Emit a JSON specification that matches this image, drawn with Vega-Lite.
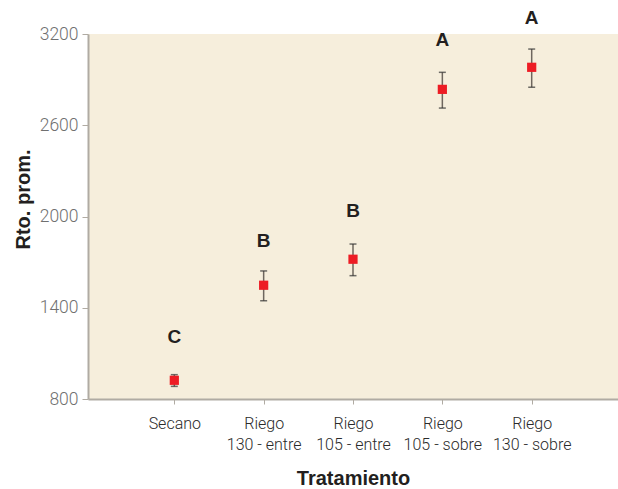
{
  "$schema": "https://vega.github.io/schema/vega-lite/v6.json",
  "width": 530,
  "height": 365,
  "autosize": "none",
  "padding": {"left": 88, "top": 34, "right": 0, "bottom": 90},
  "background": "white",
  "config": {
    "view": {"fill": "#F6EEDC", "stroke": null},
    "font": "Liberation Sans"
  },
  "data": {
    "values": [
      {"trat": "Secano", "mean": 923, "lo": 883, "hi": 960, "letra": "C", "ly": 1208},
      {"trat": "Riego|130 - entre", "mean": 1548, "lo": 1446, "hi": 1642, "letra": "B", "ly": 1839},
      {"trat": "Riego|105 - entre", "mean": 1719, "lo": 1611, "hi": 1819, "letra": "B", "ly": 2036},
      {"trat": "Riego|105 - sobre", "mean": 2836, "lo": 2713, "hi": 2948, "letra": "A", "ly": 3161},
      {"trat": "Riego|130 - sobre", "mean": 2981, "lo": 2850, "hi": 3101, "letra": "A", "ly": 3305}
    ]
  },
  "encoding": {
    "x": {
      "field": "trat",
      "type": "nominal",
      "sort": null,
      "scale": {"type": "point", "padding": 0.966},
      "axis": {
        "title": "Tratamiento",
        "titleFont": "Liberation Sans",
        "titleFontSize": 20,
        "titleFontWeight": "bold",
        "titleColor": "#231F20",
        "titlePadding": 16,
        "labelExpr": "split(datum.value, '|')",
        "labelAngle": 0,
        "labelFont": "Roboto",
        "labelFontSize": 16,
        "labelFontWeight": 300,
        "labelColor": "#2A2A2A",
        "labelPadding": 11,
        "labelLineHeight": 21,
        "domainColor": "#B0ABA3",
        "domainWidth": 2,
        "tickColor": "#B0ABA3",
        "tickSize": 5,
        "grid": false
      }
    }
  },
  "layer": [
    {
      "mark": {"type": "rule", "color": "#6E665E", "strokeWidth": 1.5},
      "encoding": {
        "y": {
          "field": "lo",
          "type": "quantitative",
          "scale": {"domain": [800, 3200], "nice": false, "zero": false},
          "axis": {
            "title": "Rto. prom.",
            "titleFont": "Liberation Sans",
            "titleFontSize": 20,
            "titleFontWeight": "bold",
            "titleColor": "#231F20",
            "titlePadding": 6,
            "titleY": 165,
            "values": [800, 1400, 2000, 2600, 3200],
            "format": "d",
            "labelFont": "Roboto",
            "labelFontSize": 17.5,
            "labelFontWeight": 300,
            "labelColor": "#707070",
            "labelPadding": 4,
            "domainColor": "#B0ABA3",
            "domainWidth": 2,
            "tickColor": "#B0ABA3",
            "tickSize": 6,
            "grid": false
          }
        },
        "y2": {"field": "hi"}
      }
    },
    {
      "mark": {"type": "tick", "orient": "horizontal", "size": 7, "thickness": 1.5, "color": "#333333"},
      "encoding": {"y": {"field": "lo", "type": "quantitative"}}
    },
    {
      "mark": {"type": "tick", "orient": "horizontal", "size": 7, "thickness": 1.5, "color": "#333333"},
      "encoding": {"y": {"field": "hi", "type": "quantitative"}}
    },
    {
      "mark": {"type": "square", "size": 85, "color": "#ED1C24", "opacity": 1, "filled": true},
      "encoding": {"y": {"field": "mean", "type": "quantitative"}}
    },
    {
      "mark": {"type": "text", "fontSize": 19, "fontWeight": "bold", "color": "#231F20", "baseline": "middle", "align": "center", "clip": false},
      "encoding": {
        "y": {"field": "ly", "type": "quantitative"},
        "text": {"field": "letra"}
      }
    }
  ]
}
